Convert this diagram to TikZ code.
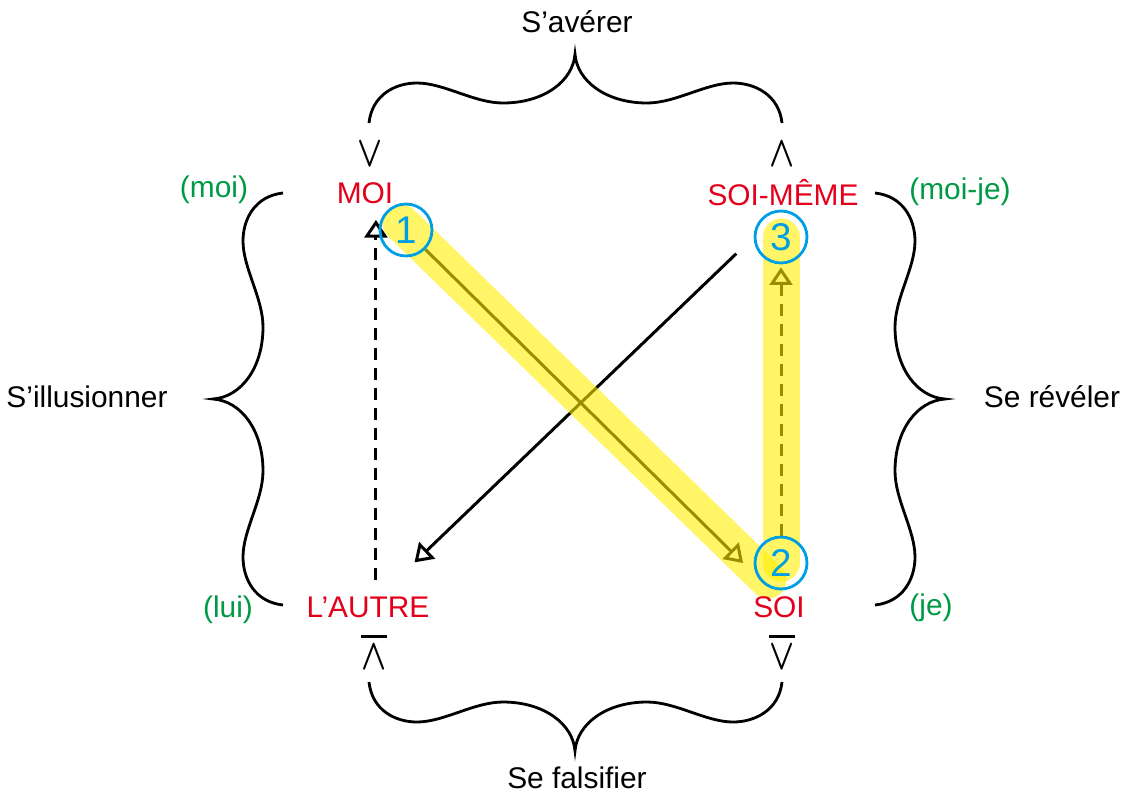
\documentclass[tikz,border=0pt]{standalone}
\usepackage{fontspec,graphicx}
\setmainfont{Liberation Sans}
\usetikzlibrary{arrows.meta}
\definecolor{termred}{HTML}{E2001A}
\definecolor{glossgreen}{HTML}{009A44}
\definecolor{ring}{HTML}{009FE3}
\definecolor{marker}{HTML}{FFEE00}
\newcommand{\opsym}[1]{\scalebox{0.75}[1]{$#1$}}
\newcommand{\negop}[1]{\vbox{\hrule height 1.7pt\kern 4pt\hbox{\opsym{#1}}}}
\pgfdeclarelayer{back}\pgfdeclarelayer{mid}\pgfsetlayers{back,mid,main}
\tikzset{term/.style={text=termred,font=\fontsize{17}{20}\selectfont,inner sep=0.1cm},
gloss/.style={text=glossgreen,font=\fontsize{17}{20}\selectfont},
verb/.style={font=\fontsize{17}{20}\selectfont},
op/.style={font=\fontsize{26}{28}\selectfont\boldmath,inner sep=0pt},
num/.style={circle,draw=ring,line width=1.6pt,text=ring,font=\fontsize{22}{22}\selectfont,minimum size=1.04cm,inner sep=0pt},
arr/.style={-{Triangle[open,length=10pt,width=13pt]},line width=1.7pt},
dasharr/.style={arr,dash pattern=on 0.24cm off 0.16cm},
hl/.style={draw=marker,opacity=0.6,line width=0.74cm,line cap=round},
hbrace/.pic={\draw[line width=1.6pt] (0,0) .. controls (3,-28) and (26,-40) .. (48,-40) .. controls (75,-40) and (105,-20) .. (134,-20) .. controls (175,-20) and (204,-42) .. (206,-69) .. controls (208,-42) and (237,-20) .. (278,-20) .. controls (307,-20) and (337,-40) .. (364,-40) .. controls (386,-40) and (410,-28) .. (413,0);},
vbrace/.pic={\draw[line width=1.6pt] (0,0) .. controls (-28,3) and (-40,26) .. (-40,48) .. controls (-40,75) and (-20,105) .. (-20,134) .. controls (-20,175) and (-42,204) .. (-70,206) .. controls (-42,208) and (-20,237) .. (-20,278) .. controls (-20,307) and (-40,337) .. (-40,364) .. controls (-40,386) and (-28,409) .. (0,412);}}
\begin{document}
\begin{tikzpicture}[x=0.02cm,y=-0.02cm]
\useasboundingbox (0,0) rectangle (1129,796);
% the four terms
\node[term](moi) at (365,193){MOI};
\node[term](soimeme) at (783,193){SOI-MÊME};
\node[term](autre) at (368,607){L’AUTRE};
\node[term](soi) at (779,607){SOI};
\node[gloss](gmoi) at (214,190){(moi)};
\node[gloss](gsoimeme) at (960,192){(moi-je)};
\node[gloss](gautre) at (228,610){(lui)};
\node[gloss](gsoi) at (931,608){(je)};
\node[op](opmoi) at (370,154){\opsym{\vee}};
\node[op](opsoimeme) at (782,154){\opsym{\wedge}};
\node[op](opautre) at (374,652){\negop{\wedge}};
\node[op](opsoi) at (782,652){\negop{\vee}};
% braces and verbs
\pic at (369,123) {hbrace};
\pic[yscale=-1] at (369,682) {hbrace};
\pic at (283,193) {vbrace};
\pic[xscale=-1] at (875,193) {vbrace};
\node[verb](averer) at (577,22){S’avérer};
\node[verb](falsifier) at (577,778){Se falsifier};
\node[verb](illusionner) at (87,397){S’illusionner};
\node[verb](reveler) at (1052,397){Se révéler};
% steps
\node[num](c1) at (406,230){1};
\node[num](c2) at (781,563){2};
\node[num](c3) at (781,237){3};
\begin{pgfonlayer}{back}
\draw[dasharr,shorten <=0.22cm,shorten >=0.22cm]([xshift=4.5pt]autre.north) -- ([xshift=4.5pt]autre.north |- moi.south);
\draw[arr](c1.-45) -- ([xshift=-6pt]c2.west);
\draw[arr,shorten <=0.48cm,shorten >=1.29cm](c3.west) -- (autre.center);
\draw[dasharr,shorten >=0.06cm](c2.north) -- (c3.south);
\end{pgfonlayer}
\begin{pgfonlayer}{mid}
\draw[hl]([shift={(-5,-7)}]c1.center) -- ([shift={(-13,17)}]c2.center);
\draw[hl](c2.center) -- (c3.center);
\end{pgfonlayer}
\end{tikzpicture}
\end{document}
